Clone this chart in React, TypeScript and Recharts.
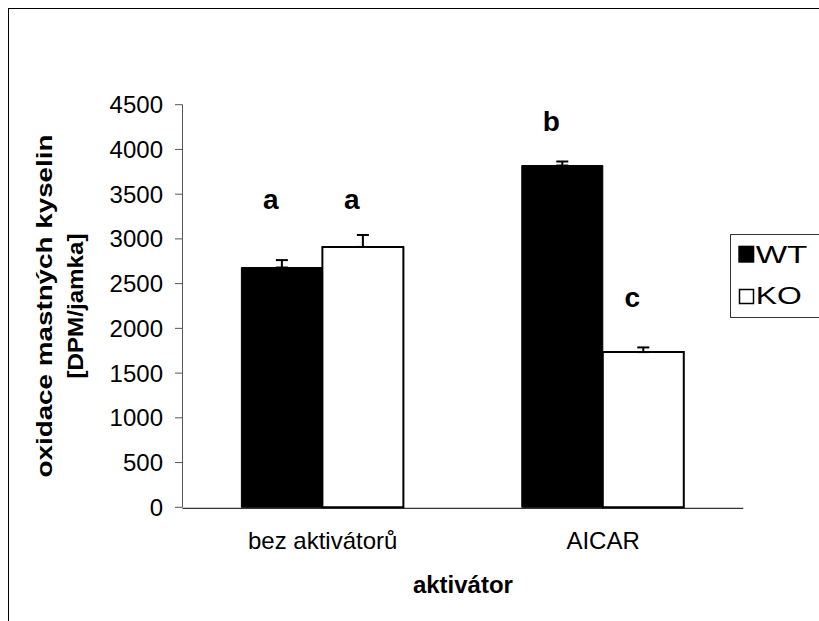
import React from 'react';
import { BarChart, Bar, XAxis, YAxis, ErrorBar, LabelList, Legend } from 'recharts';

const FONT = '"Liberation Sans", Arial, sans-serif';

const categories = ['bez aktivátorů', 'AICAR'];
const seriesNames = ['WT', 'KO'];
const wtValues = [2680, 3820];
const koValues = [2910, 1735];
const wtErrors = [83, 45];
const koErrors = [134, 52];
const wtLetters = ['a', 'b'];
const koLetters = ['a', 'c'];
const wtLetterLevels = [3332, 4211];
const koLetterLevels = [3332, 2236];
const yTicks = [0, 500, 1000, 1500, 2000, 2500, 3000, 3500, 4000, 4500];
const yTitle = ['oxidace mastných kyselin', '[DPM/jamka]'];
const xTitle = 'aktivátor';

const data = categories.map((cat, i) => ({
  cat,
  wt: wtValues[i],
  ko: koValues[i],
  wtErr: [0, wtErrors[i]],
  koErr: [0, koErrors[i]],
  wtLetter: wtLetters[i],
  koLetter: koLetters[i],
}));

const boundaryTicks = [...categories.map((_, i) => i), categories.length];

const makeLetterLabel = (values: number[], levels: number[]) => (props: any) => {
  const vb = props.viewBox && props.viewBox.width !== undefined ? props.viewBox : props;
  const { x, y, width, height } = vb;
  const i = props.index ?? 0;
  const v = values[i];
  const base = y + height;
  const ly = base - (levels[i] / v) * height;
  return (
    <text
      x={x + width / 2 - 11}
      y={ly}
      textAnchor="middle"
      fontSize={28}
      fontWeight="bold"
      fontFamily={FONT}
      fill="#000"
    >
      {props.value}
    </text>
  );
};

const YTitle = (props: any) => {
  const vb = props.viewBox;
  const cy = vb.y + vb.height / 2;
  const x0 = vb.x;
  return (
    <g>
      <text
        transform={`translate(${x0 + 43},${cy}) rotate(-90)`}
        textAnchor="middle"
        fontSize={22}
        fontWeight="bold"
        fontFamily={FONT}
        fill="#000"
        textLength={343}
        lengthAdjust="spacingAndGlyphs"
      >
        {yTitle[0]}
      </text>
      <text
        transform={`translate(${x0 + 73.5},${cy}) rotate(-90)`}
        textAnchor="middle"
        fontSize={22}
        fontWeight="bold"
        fontFamily={FONT}
        fill="#000"
        textLength={145}
        lengthAdjust="spacingAndGlyphs"
      >
        {yTitle[1]}
      </text>
    </g>
  );
};

const XTitle = (props: any) => {
  const vb = props.viewBox;
  return (
    <text
      x={vb.x + vb.width / 2}
      y={vb.y + 85.7}
      textAnchor="middle"
      fontSize={24}
      fontWeight="bold"
      fontFamily={FONT}
      fill="#000"
    >
      {xTitle}
    </text>
  );
};

const renderLegend = () => (
  <svg width={110} height={84} style={{ display: 'block' }}>
    <rect x={0.5} y={0.5} width={130} height={83} fill="#fff" stroke="#333" strokeWidth={1} />
    <rect x={8.3} y={11.7} width={16} height={17} fill="#000" />
    <text x={25.7} y={28.7} fontSize={24} fontFamily={FONT} fill="#000" textLength={51.7} lengthAdjust="spacingAndGlyphs">
      {seriesNames[0]}
    </text>
    <rect x={9.5} y={55.5} width={14} height={14} fill="#fff" stroke="#000" strokeWidth={1.5} />
    <text x={25.7} y={70} fontSize={24} fontFamily={FONT} fill="#000" textLength={46} lengthAdjust="spacingAndGlyphs">
      {seriesNames[1]}
    </text>
  </svg>
);

export default function App() {
  return (
    <div
      style={{
        position: 'fixed',
        left: 8,
        top: 8,
        right: 0,
        bottom: 0,
        overflow: 'hidden',
        background: '#fff',
        borderTop: '1px solid #000',
        borderLeft: '1px solid #000',
      }}
    >
      <BarChart
        width={770}
        height={600}
        data={data}
        margin={{ top: 95.7, right: 35.7, bottom: 99.7, left: 0 }}
        barCategoryGap="21%"
        barGap={0}
      >
        <XAxis
          xAxisId="frame"
          type="number"
          domain={[0, categories.length]}
          ticks={boundaryTicks}
          allowDataOverflow
          height={1}
          tick={false}
          tickSize={7}
          axisLine={{ stroke: '#000', strokeWidth: 1 }}
          tickLine={{ stroke: '#555' }}
        />
        <XAxis
          xAxisId="cat"
          dataKey="cat"
          height={1}
          axisLine={false}
          tickLine={false}
          tickSize={0}
          tickMargin={25}
          interval={0}
          tick={{ fill: '#000', fontSize: 24, fontFamily: FONT }}
          label={(p: any) => <XTitle {...p} />}
        />
        <YAxis
          width={173.5}
          domain={[0, 4500]}
          ticks={yTicks}
          interval={0}
          tickSize={7.5}
          tickMargin={12}
          axisLine={{ stroke: '#555' }}
          tickLine={{ stroke: '#555' }}
          tick={{ fill: '#000', fontSize: 24, fontFamily: FONT }}
          label={(p: any) => <YTitle {...p} />}
        />
        <Legend
          layout="horizontal"
          verticalAlign="middle"
          align="center"
          wrapperStyle={{ position: 'absolute', left: 721, top: 225, width: 110, height: 84 }}
          content={renderLegend}
        />
        <Bar xAxisId="cat" dataKey="wt" name={seriesNames[0]} fill="#000" stroke="#000" strokeWidth={1} isAnimationActive={false}>
          <ErrorBar dataKey="wtErr" direction="y" width={6} stroke="#000" strokeWidth={2} />
          <LabelList dataKey="wtLetter" content={makeLetterLabel(wtValues, wtLetterLevels)} />
        </Bar>
        <Bar xAxisId="cat" dataKey="ko" name={seriesNames[1]} fill="#fff" stroke="#000" strokeWidth={2} isAnimationActive={false}>
          <ErrorBar dataKey="koErr" direction="y" width={6} stroke="#000" strokeWidth={2} />
          <LabelList dataKey="koLetter" content={makeLetterLabel(koValues, koLetterLevels)} />
        </Bar>
      </BarChart>
    </div>
  );
}
